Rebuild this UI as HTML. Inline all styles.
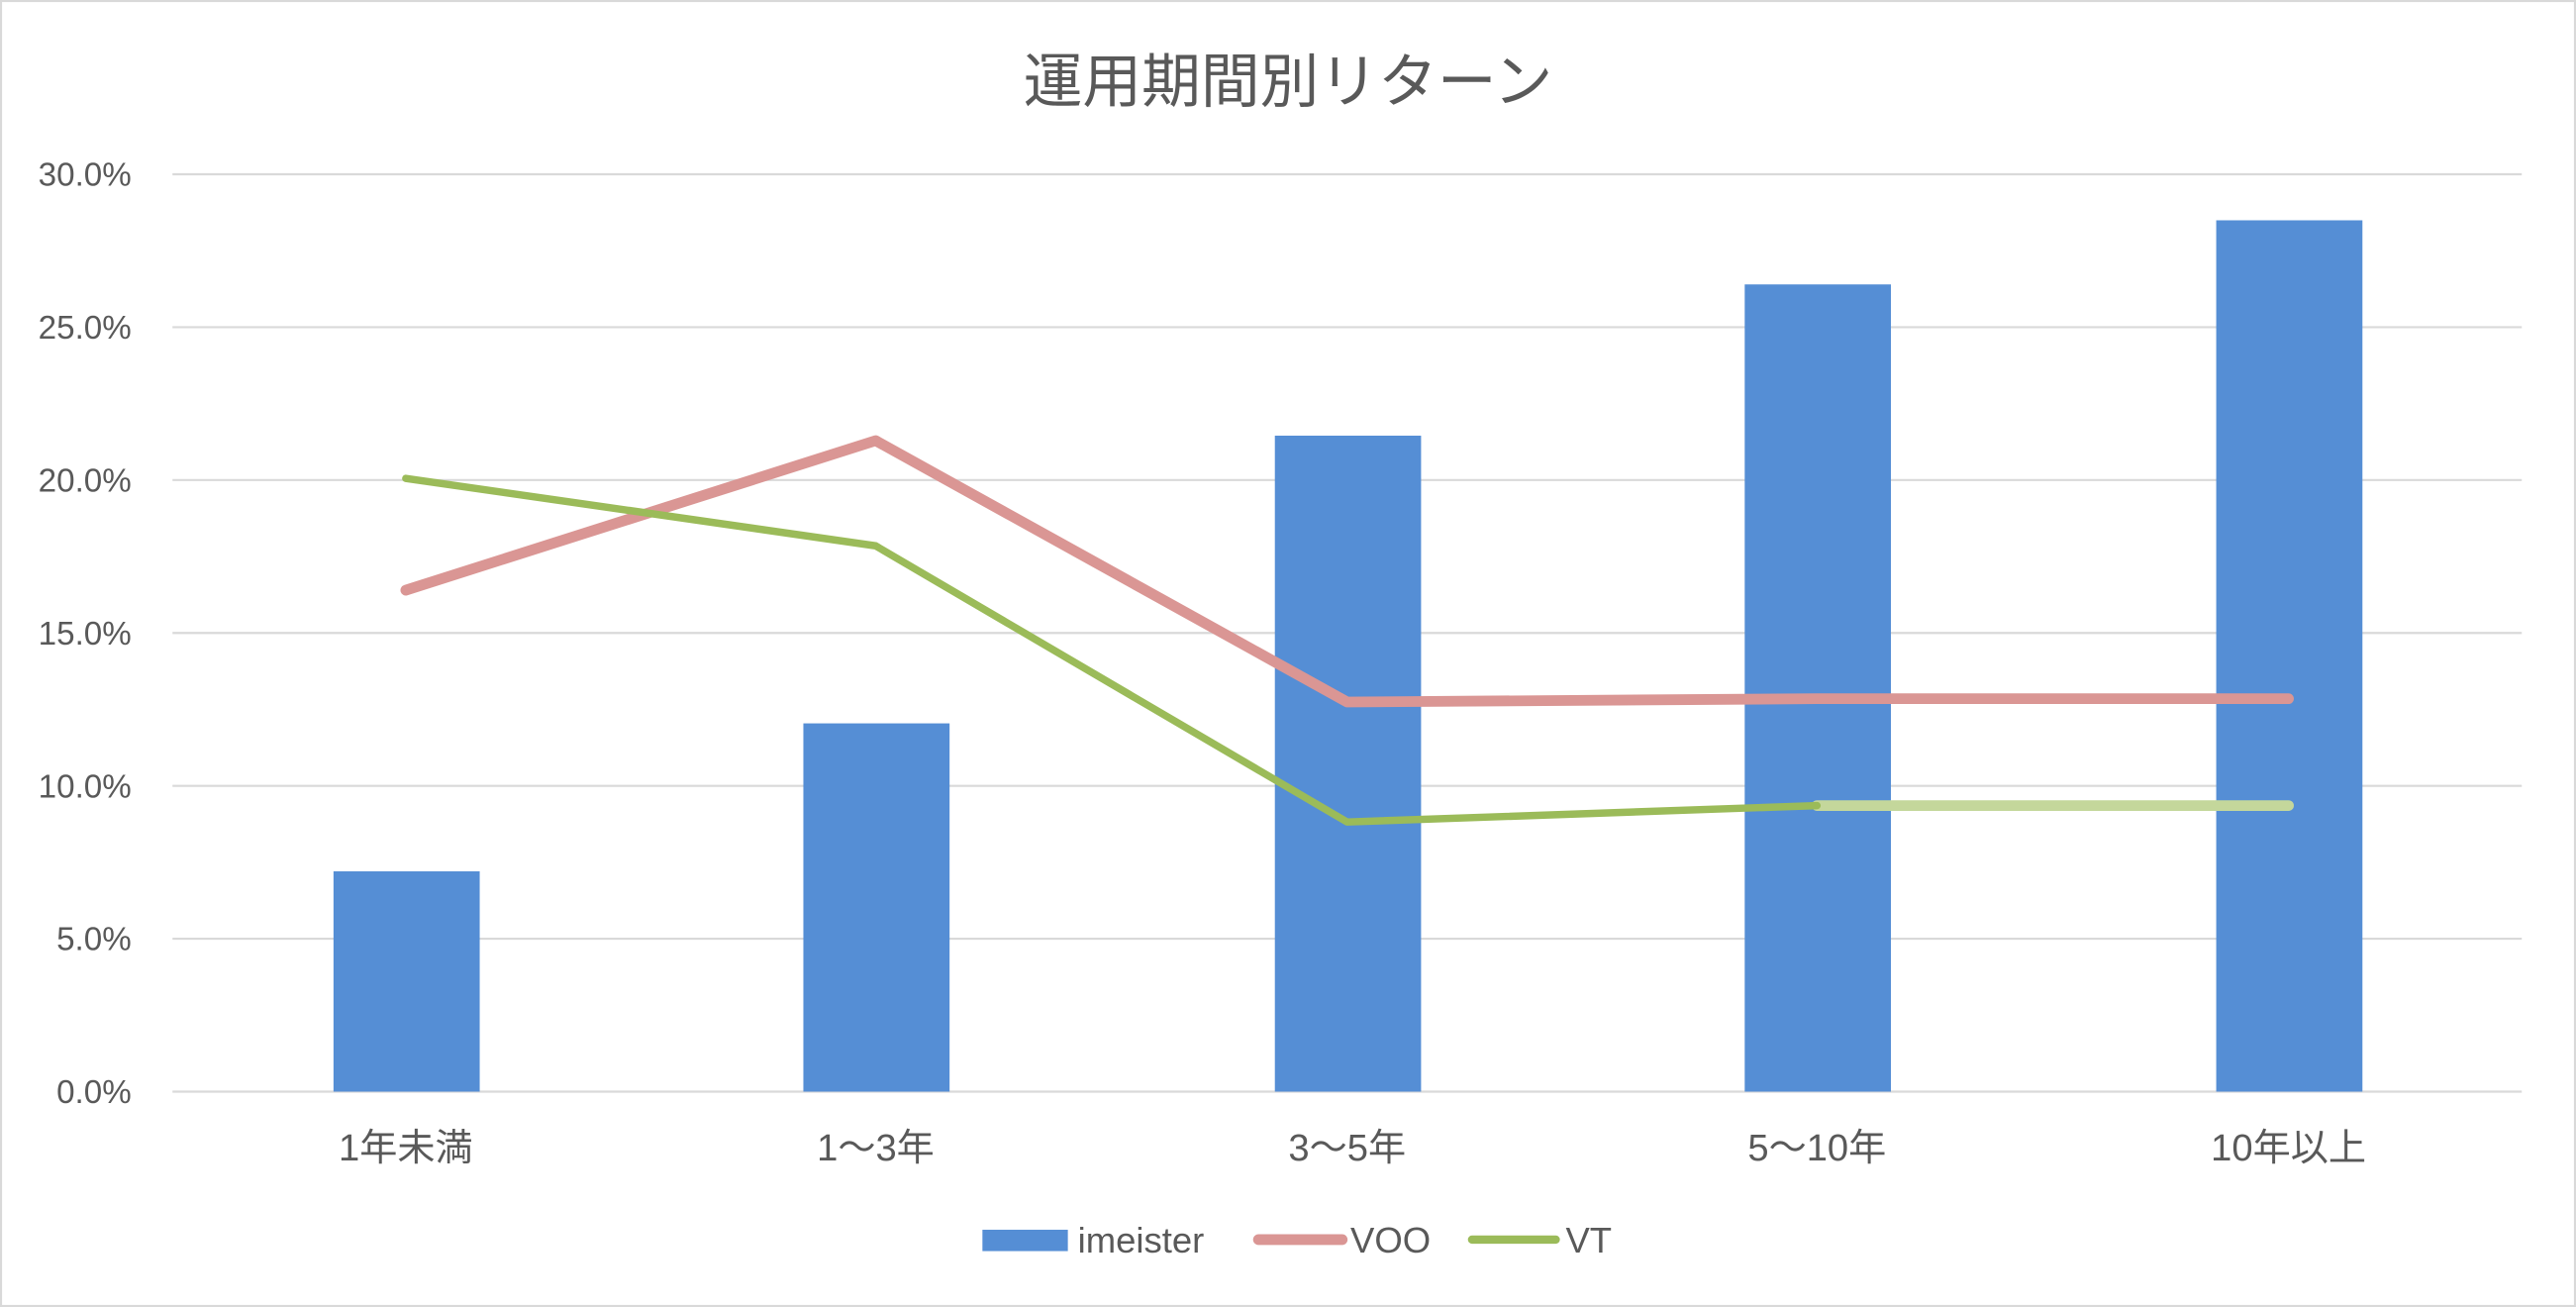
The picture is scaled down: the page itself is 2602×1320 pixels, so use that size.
<!DOCTYPE html>
<html><head><meta charset="utf-8"><style>html,body{margin:0;padding:0;background:#fff}svg{display:block}</style></head>
<body>
<svg width="2602" height="1320" viewBox="0 0 1568 795" preserveAspectRatio="none" xmlns="http://www.w3.org/2000/svg" font-family="'Liberation Sans','Noto Sans CJK JP',sans-serif" fill="#595959">
<rect x="0.5" y="0.5" width="1567" height="794" fill="#fff" stroke="#d9d9d9" stroke-width="1.5"/>
<text x="784" y="62" font-size="36" text-anchor="middle">運用期間別リターン</text>
<g stroke="#d9d9d9" stroke-width="1.3">
<line x1="105" y1="106" x2="1535" y2="106"/><line x1="105" y1="199" x2="1535" y2="199"/>
<line x1="105" y1="292" x2="1535" y2="292"/><line x1="105" y1="385" x2="1535" y2="385"/>
<line x1="105" y1="478" x2="1535" y2="478"/><line x1="105" y1="571" x2="1535" y2="571"/>
<line x1="105" y1="664" x2="1535" y2="664"/></g>
<g font-size="20" text-anchor="end">
<text x="80" y="113">30.0%</text><text x="80" y="206">25.0%</text><text x="80" y="299">20.0%</text>
<text x="80" y="392">15.0%</text><text x="80" y="485">10.0%</text><text x="80" y="578">5.0%</text><text x="80" y="671">0.0%</text></g>
<g fill="#558ed5">
<rect x="203" y="530" width="89" height="134"/><rect x="489" y="440" width="89" height="224"/>
<rect x="776" y="265" width="89" height="399"/><rect x="1062" y="173" width="89" height="491"/>
<rect x="1349" y="134" width="89" height="530"/></g>
<polyline points="247,359 533,268 820,427 1106,425 1393,425" fill="none" stroke="#da9694" stroke-width="6.5" stroke-linecap="round" stroke-linejoin="round"/>
<line x1="1106" y1="490" x2="1393" y2="490" stroke="#c4d79b" stroke-width="6.5" stroke-linecap="round"/>
<polyline points="247,291 533,332 820,500 1106,490" fill="none" stroke="#9bbb59" stroke-width="4.5" stroke-linecap="round" stroke-linejoin="round"/>
<g font-size="23" text-anchor="middle">
<text x="247" y="706">1年未満</text><text x="533" y="706">1～3年</text><text x="820" y="706">3～5年</text>
<text x="1106" y="706">5～10年</text><text x="1393" y="706">10年以上</text></g>
<rect x="598" y="748" width="52" height="13" fill="#558ed5"/>
<text x="656" y="762" font-size="22">imeister</text>
<line x1="766" y1="754" x2="817" y2="754" stroke="#da9694" stroke-width="6.5" stroke-linecap="round"/>
<text x="822" y="762" font-size="22">VOO</text>
<line x1="896" y1="754" x2="947" y2="754" stroke="#9bbb59" stroke-width="5" stroke-linecap="round"/>
<text x="953" y="762" font-size="22">VT</text>
</svg>
</body></html>
